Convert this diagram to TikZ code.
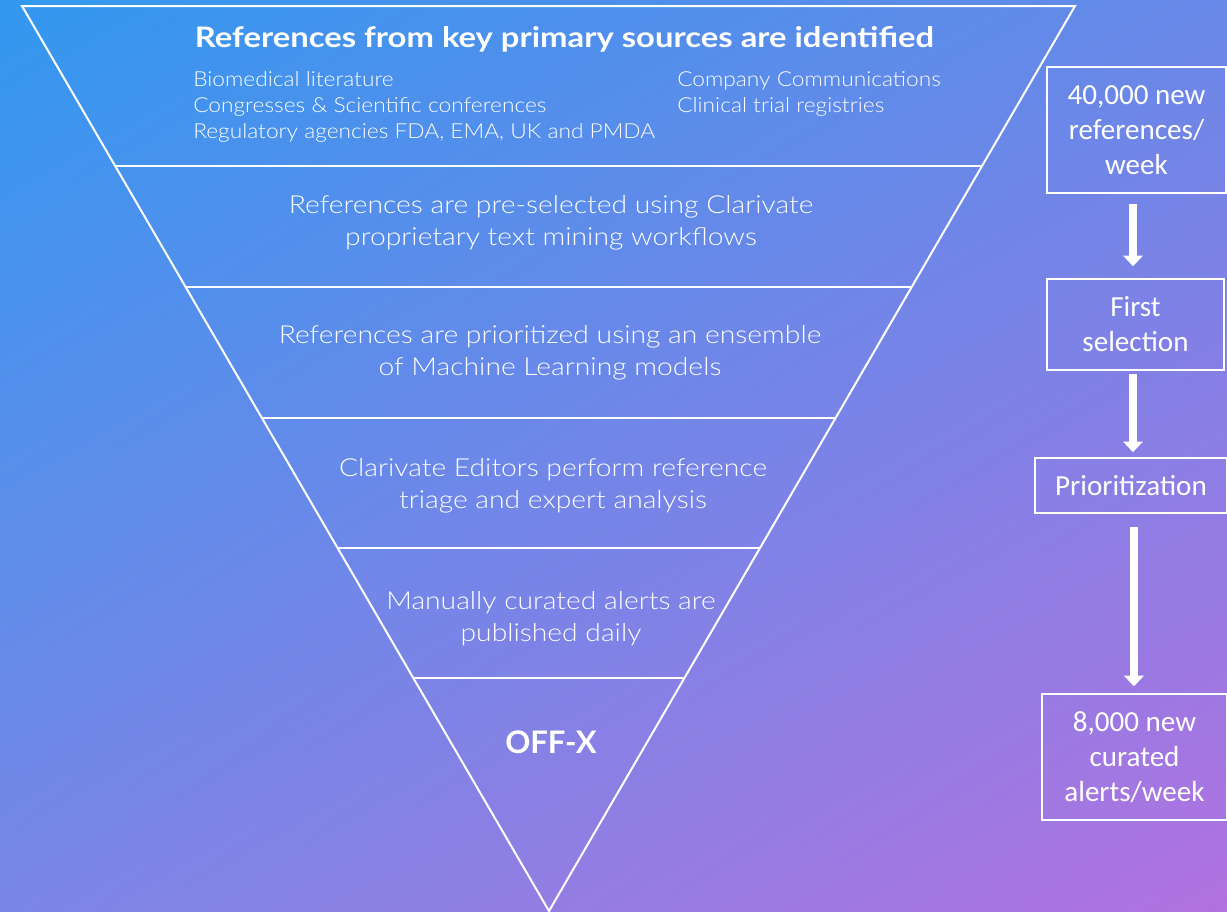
\documentclass[tikz,border=0pt]{standalone}
\usepackage{fontspec}
\setmainfont{Lato Light}
\newfontfamily\headfont[FakeStretch=1.16]{Lato Bold}
\newfontfamily\offxfont{Lato Bold}
\newfontfamily\srcfont[FakeStretch=1.1]{Lato Light}
\newfontfamily\stagefont[FakeStretch=1.14]{Lato Light}
\newfontfamily\boxfont{Carlito}
\usetikzlibrary{arrows.meta,calc,shadings}
\definecolor{bgUL}{RGB}{50,152,240}
\definecolor{bgUR}{RGB}{104,136,232}
\definecolor{bgLL}{RGB}{122,134,230}
\definecolor{bgLR}{RGB}{178,114,224}
\begin{document}
\begin{tikzpicture}[x=0.75pt,y=-0.75pt,
  funnel/.style={draw=white, line width=1.5pt, line join=miter},
  heading/.style={text=white, inner sep=0pt, font=\headfont\fontsize{21.2}{25}\selectfont},
  srcline/.style={text=white, font=\srcfont\fontsize{15.5}{19.5}\selectfont, inner sep=0pt},
  stage/.style={text=white, align=center, inner sep=0pt, font=\stagefont\fontsize{18.6}{24}\selectfont},
  box/.style={draw=white, line width=1.1pt, align=center, text=white, inner sep=0pt,
    font=\boxfont\fontsize{21.8}{26.25}\selectfont},
  flow/.style={draw=white, line width=6pt, -{Triangle[width=14.5pt,length=8pt]}}]
\useasboundingbox (0,0) rectangle (1227,911);
\shade[upper left=bgUL, upper right=bgUR, lower left=bgLL, lower right=bgLR] (0,0) rectangle (1227,911);
% funnel
\coordinate (TL) at (22,6);
\coordinate (TR) at (1075,6);
\coordinate (AP) at (549,911);
\draw[funnel] (TL) -- (TR) -- (AP) -- cycle;
\foreach \t in {0.1768,0.3105,0.4552,0.5989,0.7425}{
  \draw[funnel] ($(TL)!\t!(AP)$) -- ($(TR)!\t!(AP)$);
}
% texts in funnel
\node[heading, anchor=base] (h1) at (564.5,47) {References from key primary sources are identified};
\node[srcline, anchor=base west] (s1) at (193,86) {Biomedical literature};
\node[srcline, anchor=base west] (s2) at (193,112) {Congresses \& Scientific conferences};
\node[srcline, anchor=base west] (s3) at (193,138) {Regulatory agencies FDA, EMA, UK and PMDA};
\node[srcline, anchor=base west] (s4) at (677,86) {Company Communications};
\node[srcline, anchor=base west] (s5) at (677,112) {Clinical trial registries};
\node[stage] (st2) at (551,223) {References are pre-selected using Clarivate\\proprietary text mining workflows};
\node[stage] (st3) at (550,353) {References are prioritized using an ensemble\\of Machine Learning models};
\node[stage] (st4) at (553,486) {Clarivate Editors perform reference\\triage and expert analysis};
\node[stage] (st5) at (551,619) {Manually curated alerts are\\published daily};
\node[text=white, inner sep=0pt, font=\offxfont\fontsize{23.3}{28}\selectfont] (offx) at (551,742) {OFF-X};
% right flow
\node[box, minimum width=134.25pt, minimum height=94.5pt] (b1) at (1136.5,130) {40,000 new\\references/\\week};
\node[box, minimum width=132.75pt, minimum height=68.25pt] (b2) at (1135.5,324.5) {First\\selection};
\node[box, minimum width=144pt, minimum height=41.25pt] (b3) at (1131,485.5) {Prioritization};
\node[box, minimum width=138.75pt, minimum height=94.5pt] (b4) at (1134.5,757) {8,000 new\\curated\\alerts/week};
\draw[flow, shorten <=7.5pt, shorten >=9pt] ([xshift=-2.6pt]b1.south) -- ([xshift=-2.6pt]b1.south |- b2.north);
\draw[flow, shorten <=2.2pt, shorten >=3.8pt] ([xshift=-1.9pt]b2.south) -- ([xshift=-1.9pt]b2.south |- b3.north);
\draw[flow, shorten <=9.7pt, shorten >=5.2pt] ([xshift=2.2pt]b3.south) -- ([xshift=2.2pt]b3.south |- b4.north);
\end{tikzpicture}
\end{document}
